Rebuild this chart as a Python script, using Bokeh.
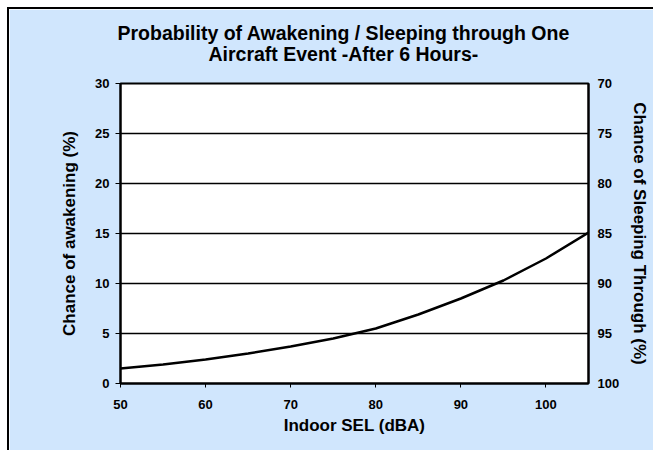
from bokeh.plotting import figure
from bokeh.models import Range1d, LinearAxis, FixedTicker, Title
from bokeh.embed import file_html
from bokeh.resources import INLINE

# Data
sel_dba = [50, 55, 60, 65, 70, 75, 80, 85, 90, 95, 100, 105]
awakening_pct = [1.5, 1.9, 2.4, 3.0, 3.7, 4.5, 5.5, 6.9, 8.5, 10.3, 12.5, 15.1]
x_ticks = [50, 60, 70, 80, 90, 100]
left_ticks = [0, 5, 10, 15, 20, 25, 30]
right_ticks = [70, 75, 80, 85, 90, 95, 100]
title_lines = ["Probability of Awakening / Sleeping through One",
               "Aircraft Event -After 6 Hours-"]

W, H = 646, 443
BG = "#d0e6fd"
FONT = "Liberation Sans"

p = figure(width=W, height=H, output_backend="svg", toolbar_location=None,
           x_range=Range1d(50, 105), y_range=Range1d(0, 30),
           min_border_left=111, min_border_right=67, min_border_top=74,
           min_border_bottom=69)
p.styles = {"margin-left": "7px", "margin-top": "7px",
            "border-left": "2px solid black", "border-top": "2px solid black"}
p.border_fill_color = BG
p.background_fill_color = "white"
p.outline_line_color = "black"
p.outline_line_width = 2

p.xgrid.visible = False
p.ygrid.grid_line_color = "black"
p.ygrid.grid_line_width = 1.3
p.ygrid.ticker = FixedTicker(ticks=left_ticks)

p.extra_y_ranges = {"sleep": Range1d(100, 70)}

def style_axis(ax):
    ax.axis_line_color = "black"
    ax.axis_line_width = 2
    ax.major_tick_line_color = "black"
    ax.major_tick_line_width = 1
    ax.minor_tick_line_color = None
    ax.major_tick_in = 0
    ax.major_tick_out = 4
    ax.major_label_text_font = FONT
    ax.major_label_text_font_style = "bold"
    ax.major_label_text_font_size = "13px"
    ax.major_label_text_color = "black"
    ax.axis_label_text_font = FONT
    ax.axis_label_text_font_style = "bold"
    ax.axis_label_text_font_size = "17px"
    ax.axis_label_text_color = "black"

xa = p.xaxis[0]
style_axis(xa)
xa.ticker = FixedTicker(ticks=x_ticks)
xa.axis_label = "Indoor SEL (dBA)"
xa.major_label_standoff = 12
xa.axis_label_standoff = 4

ya = p.yaxis[0]
style_axis(ya)
ya.ticker = FixedTicker(ticks=left_ticks)
ya.axis_label = "Chance of awakening (%)"
ya.major_tick_out = 5
ya.major_label_standoff = 6
ya.axis_label_standoff = 13

ra = LinearAxis(y_range_name="sleep", ticker=FixedTicker(ticks=right_ticks))
style_axis(ra)
ra.major_tick_out = 0
ra.major_tick_line_color = None
ra.major_label_standoff = 9
ra.axis_label = "Chance of Sleeping Through (%)"
ra.axis_label_standoff = 8
p.add_layout(ra, "right")

p.line(sel_dba, awakening_pct, line_color="black", line_width=2.5)

# Title: two lines
def style_title(t):
    t.text_font = FONT
    t.text_font_style = "bold"
    t.text_font_size = "19.5px"
    t.text_color = "black"

p.title.text = title_lines[0]
p.title.align = "left"
p.title.offset = -3
p.title.standoff = -43
style_title(p.title)

t2 = Title(text=title_lines[1], align="left", offset=88, standoff=37)
style_title(t2)
p.add_layout(t2, "above")

open("out.html", "w").write(file_html(p, INLINE))
